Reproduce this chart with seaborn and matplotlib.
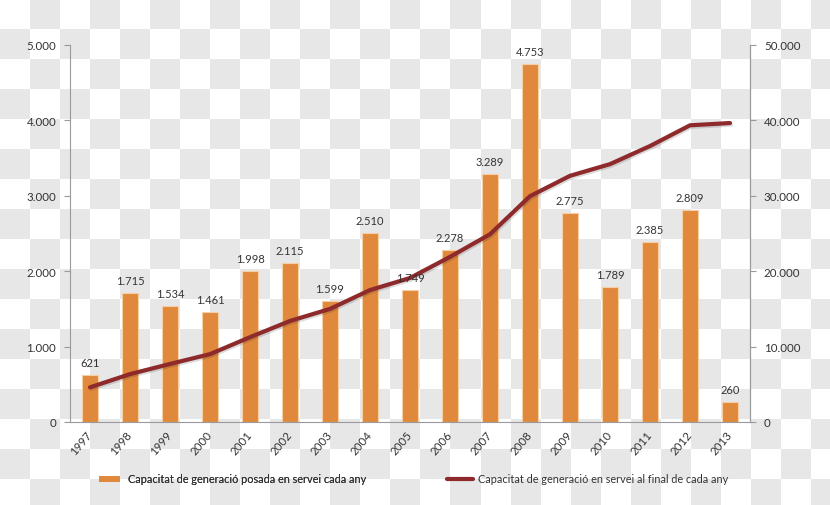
import numpy as np
import pandas as pd
import matplotlib
matplotlib.use("Agg")
import matplotlib.pyplot as plt
import matplotlib.patheffects as pe
from matplotlib.patches import Patch
from matplotlib.lines import Line2D
from matplotlib.ticker import FuncFormatter, FixedLocator
import seaborn as sns

years = ["1997", "1998", "1999", "2000", "2001", "2002", "2003", "2004", "2005",
         "2006", "2007", "2008", "2009", "2010", "2011", "2012", "2013"]
annual = [621, 1715, 1534, 1461, 1998, 2115, 1599, 2510, 1749, 2278, 3289, 4753,
          2775, 1789, 2385, 2809, 260]
cumulative = [4600, 6350, 7700, 9000, 11250, 13400, 15000, 17500, 19100, 21900,
              24900, 29950, 32650, 34200, 36600, 39350, 39650]
bar_label = "Capacitat de generació posada en servei cada any"
line_label = "Capacitat de generació en servei al final de cada any"

sns.set_theme(style="white")
plt.rcParams["font.family"] = ["Lato", "DejaVu Sans"]

BAR_C = "#E0893C"
LINE_C = "#8E2A2C"
AX_C = "#9a9a9a"
TXT_C = "#333333"

W, H = 830, 506
fig = plt.figure(figsize=(W / 100, H / 100), dpi=100)

# checkerboard background (transparency pattern)
bg = fig.add_axes([0, 0, 1, 1], zorder=-10)
nx, ny = int(np.ceil(W / 30)), int(np.ceil(H / 30))
ii, jj = np.meshgrid(np.arange(nx), np.arange(ny))
board = np.where((ii + jj) % 2 == 1, 0.905, 1.0)
bg.imshow(board, cmap="gray", vmin=0, vmax=1, interpolation="nearest",
          extent=[0, nx * 30, ny * 30, 0], aspect="auto")
bg.set_xlim(0, W)
bg.set_ylim(H, 0)
bg.axis("off")

ax = fig.add_axes([70 / W, 1 - 423 / H, 680 / W, 377 / H])
ax.patch.set_alpha(0)

df = pd.DataFrame({"year": years, "annual": annual, "cumulative": cumulative})
sns.barplot(data=df, x="year", y="annual", ax=ax, color=BAR_C, saturation=1,
            width=0.4, edgecolor="#F7CFA6", linewidth=0.8, zorder=2)

ax.set_xlim(-0.5, len(years) - 0.5)
ax.set_ylim(0, 5000)
ax.set_yticks(np.arange(0, 5001, 1000))
fmt = FuncFormatter(lambda v, p: f"{int(v):,}".replace(",", "."))
ax.yaxis.set_major_formatter(fmt)
ax.set_xlabel("")
ax.set_ylabel("")

# x ticks: marks at category boundaries, labels at centres
ax.xaxis.set_major_locator(FixedLocator(np.arange(-0.5, len(years), 1.0)))
ax.xaxis.set_major_formatter(FuncFormatter(lambda v, p: ""))
ax.set_xticks(np.arange(len(years)), labels=years, minor=True)
for lab in ax.get_xticklabels(minor=True):
    lab.set_rotation(50)
    lab.set_ha("right")
    lab.set_va("center")
    lab.set_rotation_mode("anchor")
    lab.set_fontsize(8.3)
    lab.set_color(TXT_C)
    lab.set_transform(lab.get_transform() + matplotlib.transforms.ScaledTranslation(6 / 100, 0, fig.dpi_scale_trans))
ax.tick_params(axis="x", which="major", direction="out", length=4, color=AX_C, width=0.8)
ax.tick_params(axis="x", which="minor", length=0, pad=7)
ax.tick_params(axis="y", direction="out", length=4, color=AX_C, width=0.8,
               labelsize=8.3, labelcolor=TXT_C, pad=6)

ax.spines["top"].set_visible(False)
for s in ["left", "bottom", "right"]:
    ax.spines[s].set_color(AX_C)
    ax.spines[s].set_linewidth(0.8)

ax2 = ax.twinx()
ax2.patch.set_alpha(0)
sns.lineplot(x=np.arange(len(years)), y=cumulative, ax=ax2, color=LINE_C,
             linewidth=3.0, solid_capstyle="round", zorder=3,
             path_effects=[pe.SimpleLineShadow(offset=(0.8, -1.2), alpha=0.15), pe.Normal()])
ax2.set_ylim(0, 50000)
ax2.set_yticks(np.arange(0, 50001, 10000))
ax2.yaxis.set_major_formatter(fmt)
ax2.tick_params(axis="y", direction="out", length=4, color=AX_C, width=0.8,
                labelsize=8.3, labelcolor=TXT_C, pad=6)
for s in ["top", "left", "bottom"]:
    ax2.spines[s].set_visible(False)
ax2.spines["right"].set_color(AX_C)
ax2.spines["right"].set_linewidth(0.8)
ax2.set_xlim(-0.5, len(years) - 0.5)

# value labels above bars (drawn over the line)
for i, v in enumerate(annual):
    ax2.annotate(f"{v:,}".replace(",", "."), (i, v), xycoords=ax.transData,
                 xytext=(0, 5), textcoords="offset points", ha="center",
                 va="bottom", fontsize=8, color=TXT_C, zorder=5)

# legends
fs = 7.8
leg1 = fig.legend(handles=[Patch(facecolor=BAR_C, edgecolor="none", label=bar_label)],
                  loc="center left", bbox_to_anchor=(99 / W, 1 - 480 / H),
                  frameon=False, fontsize=fs, borderpad=0, borderaxespad=0,
                  handlelength=1.95, handleheight=0.45, handletextpad=0.7)
for t in leg1.get_texts():
    t.set_color(TXT_C)
leg2 = fig.legend(handles=[Line2D([], [], color=LINE_C, linewidth=3.0,
                                  solid_capstyle="round", label=line_label)],
                  loc="center left", bbox_to_anchor=(447 / W, 1 - 480 / H),
                  frameon=False, fontsize=fs, borderpad=0, borderaxespad=0,
                  handlelength=2.4, handletextpad=0.45)
for t in leg2.get_texts():
    t.set_color(TXT_C)
fig.add_artist(leg1)

fig.savefig("out.png", dpi=100)
